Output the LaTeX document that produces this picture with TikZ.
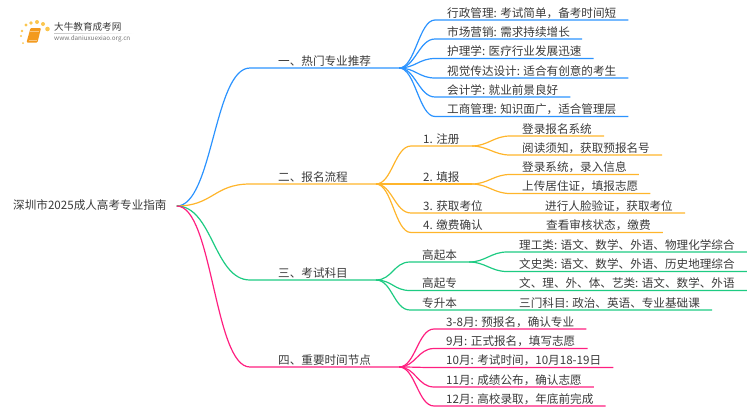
\documentclass[tikz,border=0pt]{standalone}
\usepackage{fontspec}
\setmainfont{Noto Sans CJK SC}
\definecolor{inkgray}{HTML}{3A3A3A}
\definecolor{blueline}{HTML}{2B93FF}
\definecolor{orangeline}{HTML}{FFB52B}
\definecolor{greenline}{HTML}{1DCB82}
\definecolor{pinkline}{HTML}{FF1F80}
\definecolor{sunyellow}{HTML}{FBC64F}
\definecolor{bookorange}{HTML}{F39A1E}
\begin{document}
\begin{tikzpicture}[x=1pt,y=-1pt,
    every node/.style={font=\fontsize{11.6}{14}\selectfont,text=inkgray,text height=9pt,text depth=2pt,inner ysep=.5pt,anchor=south west},
    topic/.style={inner xsep=28pt},
    entry/.style={inner xsep=12pt},
    rootcurve/.style={out=0,in=180,distance=36pt},
    leafcurve/.style={out=0,in=180,distance=16pt},
    bluelink/.style={draw=blueline,line width=1.2pt},
    orangelink/.style={draw=orangeline,line width=1.2pt},
    greenlink/.style={draw=greenline,line width=1.2pt},
    pinklink/.style={draw=pinkline,line width=1.2pt}]
  \useasboundingbox (0,0) rectangle (750,410);

  % logo
  \foreach \dotx/\doty/\dotr in {23/43/1,21/36/1.2,22/31/1.4,26/25/1.6,31/23/1.9,37/22/2,43/24/2,47.5/29/2.3}
    \fill[sunyellow] (\dotx,\doty) circle (\dotr);
  \fill[bookorange,rounded corners=1pt] (30.5,28) -- (41,28) -- (37.5,42.5) -- (26.5,42.5) -- cycle;
  \draw[white!45!bookorange,line width=.6pt] (30,31) -- (38.5,31) (28.5,40) -- (36.5,40);
  \fill[left color=black!22,right color=white] (54,33) rectangle (134,33.6);
  \node[font=\fontsize{9.6}{11}\selectfont,inner sep=0pt,text height=8pt,text depth=2pt] (logoname) at (54,33) {大牛教育成考网};
  \node[font=\fontsize{6.3}{8}\selectfont,text=black!55,inner sep=0pt,text height=5pt,text depth=1pt] (logourl) at (54,42) {www.daniuxuexiao.org.cn};

  \node[anchor=west,inner xsep=10pt] (root) at (3,206) {深圳市2025成人高考专业指南};

  \node[topic] (t1) at (250,68) {一、热门专业推荐};
  \node[topic] (t2) at (250,184) {二、报名流程};
  \node[topic] (t3) at (250,280) {三、考试科目};
  \node[topic] (t4) at (250,367) {四、重要时间节点};

  \node[entry] (a1) at (435,20) {行政管理: 考试简单，备考时间短};
  \node[entry] (a2) at (435,39) {市场营销: 需求持续增长};
  \node[entry] (a3) at (435,58.5) {护理学: 医疗行业发展迅速};
  \node[entry] (a4) at (435,78) {视觉传达设计: 适合有创意的考生};
  \node[entry] (a5) at (435,97) {会计学: 就业前景良好};
  \node[entry] (a6) at (435,116.5) {工商管理: 知识面广，适合管理层};

  \node[entry] (b1) at (411,146) {1. 注册\hspace{5pt}};
  \node[entry] (b2) at (411,184) {2. 填报\hspace{5pt}};
  \node[entry] (b3) at (411,213) {3. 获取考位};
  \node[entry] (b4) at (411,232.5) {4. 缴费确认};
  \node[entry] (b1a) at (510,136) {登录报名系统};
  \node[entry] (b1b) at (510,155) {阅读须知，获取预报名号};
  \node[entry] (b2a) at (510,174.5) {登录系统，录入信息};
  \node[entry] (b2b) at (510,193.5) {上传居住证，填报志愿};
  \node[entry] (b3a) at (533,213) {进行人脸验证，获取考位};
  \node[entry] (b4a) at (534,232.5) {查看审核状态，缴费};

  \node[entry] (c1) at (410,262) {高起本};
  \node[entry] (c2) at (410,290.5) {高起专};
  \node[entry] (c3) at (410,310) {专升本};
  \node[entry] (c1a) at (507,252) {理工类: 语文、数学、外语、物理化学综合};
  \node[entry] (c1b) at (507,271.5) {文史类: 语文、数学、外语、历史地理综合};
  \node[entry] (c2a) at (507,290.5) {文、理、外、体、艺类: 语文、数学、外语};
  \node[entry] (c3a) at (507,310) {三门科目: 政治、英语、专业基础课};

  \node[entry] (d1) at (434,329) {3-8月: 预报名，确认专业};
  \node[entry] (d2) at (434,348.5) {9月: 正式报名，填写志愿};
  \node[entry] (d3) at (434,367.5) {10月: 考试时间，10月18-19日};
  \node[entry] (d4) at (434,387) {11月: 成绩公布，确认志愿};
  \node[entry] (d5) at (434,406) {12月: 高校录取，年底前完成};

  \draw[bluelink] (root.east) to[rootcurve] (t1.south west) -- (t1.south east);
  \draw[orangelink] (root.east) to[rootcurve] (t2.south west) -- (t2.south east);
  \draw[greenlink] (root.east) to[rootcurve] (t3.south west) -- (t3.south east);
  \draw[pinklink] (root.east) to[rootcurve] (t4.south west) -- (t4.south east);

  \draw[bluelink] (t1.south east) to[leafcurve] (a1.south west) -- (a1.south east);
  \draw[bluelink] (t1.south east) to[leafcurve] (a2.south west) -- (a2.south east);
  \draw[bluelink] (t1.south east) to[leafcurve] (a3.south west) -- (a3.south east);
  \draw[bluelink] (t1.south east) to[leafcurve] (a4.south west) -- (a4.south east);
  \draw[bluelink] (t1.south east) to[leafcurve] (a5.south west) -- (a5.south east);
  \draw[bluelink] (t1.south east) to[leafcurve] (a6.south west) -- (a6.south east);

  \draw[orangelink] (t2.south east) to[leafcurve] (b1.south west) -- (b1.south east);
  \draw[orangelink] (t2.south east) to[leafcurve] (b2.south west) -- (b2.south east);
  \draw[orangelink] (t2.south east) to[leafcurve] (b3.south west) -- (b3a.south east);
  \draw[orangelink] (t2.south east) to[leafcurve] (b4.south west) -- (b4a.south east);
  \draw[orangelink] (b1.south east) to[leafcurve] (b1a.south west) -- (b1a.south east);
  \draw[orangelink] (b1.south east) to[leafcurve] (b1b.south west) -- (b1b.south east);
  \draw[orangelink] (b2.south east) to[leafcurve] (b2a.south west) -- (b2a.south east);
  \draw[orangelink] (b2.south east) to[leafcurve] (b2b.south west) -- (b2b.south east);

  \draw[greenlink] (t3.south east) to[leafcurve] (c1.south west) -- (c1.south east);
  \draw[greenlink] (t3.south east) to[leafcurve] (c2.south west) -- (c2a.south east);
  \draw[greenlink] (t3.south east) to[leafcurve] (c3.south west) -- (c3a.south east);
  \draw[greenlink] (c1.south east) to[leafcurve] (c1a.south west) -- (c1a.south east);
  \draw[greenlink] (c1.south east) to[leafcurve] (c1b.south west) -- (c1b.south east);

  \draw[pinklink] (t4.south east) to[leafcurve] (d1.south west) -- (d1.south east);
  \draw[pinklink] (t4.south east) to[leafcurve] (d2.south west) -- (d2.south east);
  \draw[pinklink] (t4.south east) to[leafcurve] (d3.south west) -- (d3.south east);
  \draw[pinklink] (t4.south east) to[leafcurve] (d4.south west) -- (d4.south east);
  \draw[pinklink] (t4.south east) to[leafcurve] (d5.south west) -- (d5.south east);
\end{tikzpicture}
\end{document}
